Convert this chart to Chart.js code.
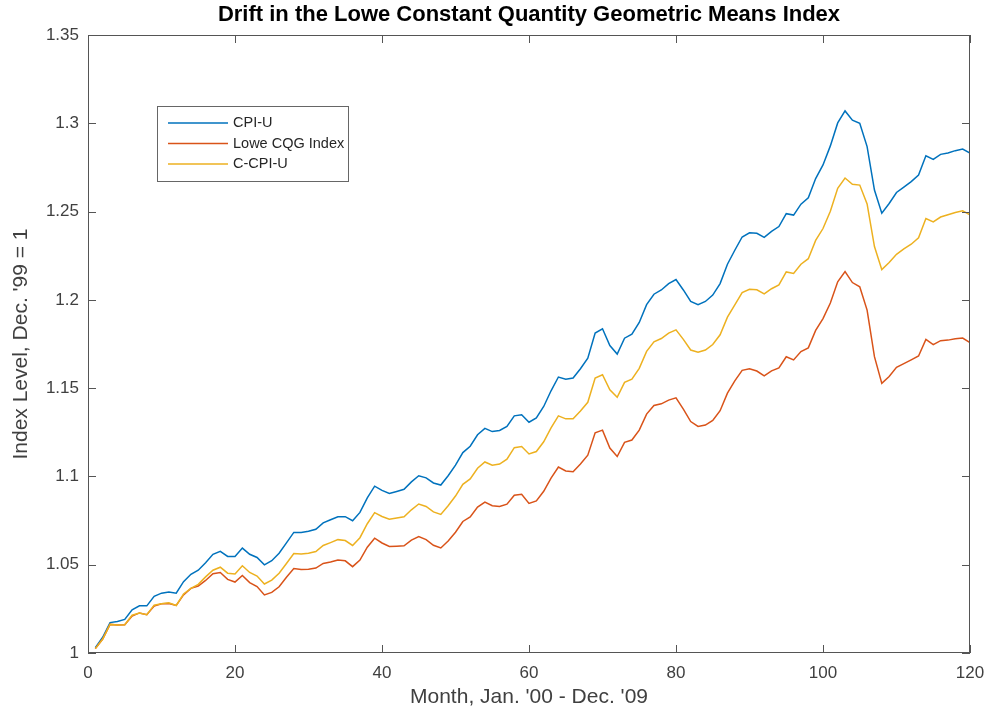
<!DOCTYPE html>
<html lang="en">
  <head>
    <meta charset="UTF-8" />
    <title>Drift in the Lowe Constant Quantity Geometric Means Index</title>
    <script src="https://cdn.jsdelivr.net/npm/chart.js"></script>
    <style>
      html, body { margin: 0; padding: 0; background: #fff; }
      #wrap { width: 998px; height: 717px; }
    </style>
  </head>
  <body>
    <div id="wrap"><canvas id="driftChart"></canvas></div>

    <script>
      // months 1..120 (Jan '00 - Dec '09)
      const months = Array.from({ length: 120 }, (_, i) => i + 1);

      const cpiU = [
        1.0030, 1.0089, 1.0172, 1.0178, 1.0190, 1.0244, 1.0267, 1.0267, 1.0321, 1.0339, 1.0345, 1.0339,
        1.0404, 1.0446, 1.0469, 1.0511, 1.0559, 1.0576, 1.0547, 1.0547, 1.0594, 1.0559, 1.0541, 1.0499,
        1.0523, 1.0565, 1.0624, 1.0683, 1.0683, 1.0689, 1.0701, 1.0737, 1.0755, 1.0772, 1.0772, 1.0749,
        1.0796, 1.0879, 1.0945, 1.0921, 1.0903, 1.0915, 1.0927, 1.0969, 1.1004, 1.0992, 1.0963, 1.0951,
        1.1004, 1.1064, 1.1135, 1.1171, 1.1236, 1.1272, 1.1254, 1.1260, 1.1283, 1.1343, 1.1349, 1.1307,
        1.1331, 1.1396, 1.1485, 1.1563, 1.1551, 1.1557, 1.1610, 1.1670, 1.1812, 1.1836, 1.1741, 1.1693,
        1.1783, 1.1806, 1.1872, 1.1973, 1.2032, 1.2056, 1.2092, 1.2115, 1.2056, 1.1991, 1.1973, 1.1991,
        1.2027, 1.2092, 1.2202, 1.2281, 1.2356, 1.2380, 1.2377, 1.2354, 1.2388, 1.2415, 1.2488, 1.2480,
        1.2542, 1.2578, 1.2687, 1.2764, 1.2872, 1.3002, 1.3070, 1.3018, 1.3000, 1.2868, 1.2622, 1.2491,
        1.2546, 1.2608, 1.2639, 1.2670, 1.2707, 1.2816, 1.2796, 1.2824, 1.2832, 1.2845, 1.2854, 1.2831
      ];

      const loweCqg = [
        1.0025, 1.0079, 1.0162, 1.0158, 1.0160, 1.0209, 1.0227, 1.0217, 1.0266, 1.0279, 1.0280, 1.0269,
        1.0329, 1.0366, 1.0379, 1.0411, 1.0449, 1.0456, 1.0417, 1.0402, 1.0439, 1.0399, 1.0376, 1.0329,
        1.0343, 1.0375, 1.0429, 1.0478, 1.0473, 1.0474, 1.0481, 1.0507, 1.0515, 1.0527, 1.0522, 1.0489,
        1.0526, 1.0599, 1.0650, 1.0623, 1.0603, 1.0605, 1.0607, 1.0639, 1.0660, 1.0642, 1.0610, 1.0595,
        1.0634, 1.0684, 1.0745, 1.0771, 1.0826, 1.0855, 1.0834, 1.0830, 1.0843, 1.0893, 1.0899, 1.0847,
        1.0861, 1.0916, 1.0990, 1.1053, 1.1031, 1.1027, 1.1070, 1.1120, 1.1247, 1.1262, 1.1161, 1.1113,
        1.1193, 1.1206, 1.1262, 1.1353, 1.1402, 1.1411, 1.1432, 1.1445, 1.1381, 1.1311, 1.1283, 1.1291,
        1.1317, 1.1372, 1.1472, 1.1541, 1.1601, 1.1610, 1.1597, 1.1569, 1.1598, 1.1615, 1.1678, 1.1660,
        1.1707, 1.1728, 1.1827, 1.1894, 1.1982, 1.2102, 1.2160, 1.2098, 1.2074, 1.1942, 1.1678, 1.1527,
        1.1566, 1.1618, 1.1639, 1.1660, 1.1682, 1.1776, 1.1746, 1.1769, 1.1772, 1.1780, 1.1784, 1.1758
      ];

      const cCpiU = [
        1.0025, 1.0079, 1.0162, 1.0158, 1.0160, 1.0214, 1.0227, 1.0217, 1.0271, 1.0279, 1.0285, 1.0269,
        1.0334, 1.0366, 1.0389, 1.0431, 1.0469, 1.0486, 1.0452, 1.0447, 1.0494, 1.0456, 1.0436, 1.0391,
        1.0413, 1.0452, 1.0507, 1.0563, 1.0561, 1.0565, 1.0575, 1.0609, 1.0625, 1.0642, 1.0637, 1.0609,
        1.0653, 1.0732, 1.0795, 1.0773, 1.0758, 1.0765, 1.0772, 1.0811, 1.0844, 1.0830, 1.0799, 1.0785,
        1.0834, 1.0889, 1.0955, 1.0986, 1.1046, 1.1082, 1.1064, 1.1070, 1.1098, 1.1163, 1.1169, 1.1127,
        1.1141, 1.1196, 1.1275, 1.1343, 1.1326, 1.1327, 1.1370, 1.1420, 1.1557, 1.1576, 1.1491, 1.1448,
        1.1533, 1.1551, 1.1612, 1.1708, 1.1762, 1.1781, 1.1812, 1.1830, 1.1776, 1.1716, 1.1703, 1.1716,
        1.1747, 1.1802, 1.1902, 1.1971, 1.2041, 1.2060, 1.2057, 1.2034, 1.2063, 1.2085, 1.2158, 1.2150,
        1.2202, 1.2233, 1.2337, 1.2404, 1.2502, 1.2632, 1.2690, 1.2655, 1.2650, 1.2543, 1.2302, 1.2171,
        1.2211, 1.2258, 1.2289, 1.2315, 1.2352, 1.2461, 1.2441, 1.2469, 1.2482, 1.2495, 1.2504, 1.2481
      ];

      const xTicks = [0, 20, 40, 60, 80, 100, 120];
      const yTicks = [1, 1.05, 1.1, 1.15, 1.2, 1.25, 1.3, 1.35];

      const toPoints = (vals) => vals.map((v, i) => ({ x: months[i], y: v }));

      Chart.defaults.font.family = "'Liberation Sans', Arial, Helvetica, sans-serif";

      // matlab-ish box, inward ticks and legend box
      const matlabAxes = {
        id: "matlabAxes",
        afterDatasetsDraw(chart) {
          const { ctx, chartArea: a, scales } = chart;
          const x = scales.x, y = scales.y;
          ctx.save();
          ctx.strokeStyle = "#555";
          ctx.lineWidth = 1;
          ctx.strokeRect(a.left + 0.5, a.top + 0.5, a.right - a.left - 1, a.bottom - a.top - 1);
          ctx.beginPath();
          xTicks.forEach((v) => {
            const px = Math.round(x.getPixelForValue(v)) + 0.5;
            ctx.moveTo(px, a.bottom); ctx.lineTo(px, a.bottom - 8);
            ctx.moveTo(px, a.top); ctx.lineTo(px, a.top + 8);
          });
          yTicks.forEach((v) => {
            const py = Math.round(y.getPixelForValue(v)) + 0.5;
            ctx.moveTo(a.left, py); ctx.lineTo(a.left + 8, py);
            ctx.moveTo(a.right, py); ctx.lineTo(a.right - 8, py);
          });
          ctx.stroke();

          // legend
          const box = { left: 157, top: 106, w: 191, h: 75 };
          ctx.fillStyle = "#fff";
          ctx.fillRect(box.left, box.top, box.w, box.h);
          ctx.strokeStyle = "#666";
          ctx.strokeRect(box.left + 0.5, box.top + 0.5, box.w, box.h);
          ctx.font = "14.5px 'Liberation Sans', Arial, sans-serif";
          ctx.textBaseline = "middle";
          ctx.textAlign = "left";
          chart.data.datasets.forEach((ds, i) => {
            const rowY = 123 + i * 20.5;
            ctx.strokeStyle = ds.borderColor;
            ctx.lineWidth = 1.5;
            ctx.beginPath();
            ctx.moveTo(168, rowY); ctx.lineTo(228, rowY);
            ctx.stroke();
            ctx.fillStyle = "#262626";
            ctx.fillText(ds.label, 233, rowY);
          });
          ctx.restore();
        }
      };

      new Chart(document.getElementById("driftChart"), {
        type: "line",
        data: {
          datasets: [
            { label: "CPI-U", data: toPoints(cpiU), borderColor: "#0072BD", order: 2 },
            { label: "Lowe CQG Index", data: toPoints(loweCqg), borderColor: "#D95319", order: 1 },
            { label: "C-CPI-U", data: toPoints(cCpiU), borderColor: "#EDB120", order: 0 }
          ]
        },
        options: {
          responsive: true,
          maintainAspectRatio: false,
          animation: false,
          layout: { padding: { left: 0, right: 28, top: 0, bottom: 0 } },
          elements: {
            line: { borderWidth: 1.5, tension: 0, fill: false },
            point: { radius: 0, hoverRadius: 0 }
          },
          plugins: {
            legend: { display: false },
            tooltip: { enabled: false },
            title: {
              display: true,
              fullSize: false,
              text: "Drift in the Lowe Constant Quantity Geometric Means Index",
              color: "#000",
              font: { size: 22, weight: "bold" },
              padding: { top: 2, bottom: 6.6 }
            }
          },
          scales: {
            x: {
              type: "linear",
              min: 0,
              max: 120,
              afterBuildTicks: (s) => { s.ticks = xTicks.map((v) => ({ value: v })); },
              afterFit: (s) => { s.height = 64; },
              grid: { display: false, drawTicks: false },
              border: { display: false },
              ticks: { padding: 10, color: "#404040", font: { size: 17 }, maxRotation: 0 },
              title: {
                display: true,
                text: "Month, Jan. '00 - Dec. '09",
                color: "#404040",
                font: { size: 21 },
                padding: { top: 0, bottom: 7 }
              }
            },
            y: {
              min: 1,
              max: 1.35,
              afterBuildTicks: (s) => { s.ticks = yTicks.map((v) => ({ value: v })); },
              afterFit: (s) => { s.width = 88; },
              grid: { display: false, drawTicks: false },
              border: { display: false },
              ticks: {
                padding: 9,
                color: "#404040",
                font: { size: 17 },
                callback: (v) => String(+Number(v).toFixed(2))
              },
              title: {
                display: true,
                text: "Index Level, Dec. '99 = 1",
                color: "#404040",
                font: { size: 21 },
                padding: { top: 9, bottom: 0 }
              }
            }
          }
        },
        plugins: [matlabAxes]
      });
    </script>
  </body>
</html>
